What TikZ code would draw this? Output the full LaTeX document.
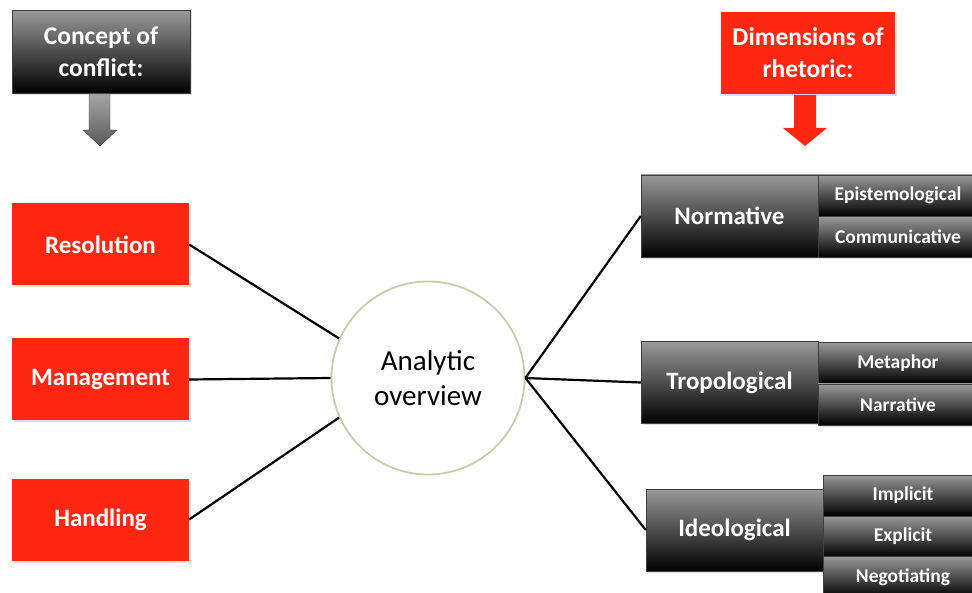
\documentclass[tikz,border=0pt]{standalone}
\usepackage{fontspec}
\setmainfont{Carlito}
\usetikzlibrary{shadows}

\definecolor{boxred}{RGB}{255,38,18}
\definecolor{hubrim}{RGB}{200,204,168}

\tikzset{
  softshadow/.style={drop shadow={opacity=0.25,shadow xshift=1.5pt,shadow yshift=-2pt}},
  bigtext/.style={font=\bfseries\fontsize{25}{32}\selectfont, text=white, align=center},
  smalltext/.style={font=\bfseries\fontsize{19.5}{22}\selectfont, text=white},
  redbox/.style={bigtext, fill=boxred, minimum width=177pt, minimum height=82pt, softshadow},
  darkbox/.style={bigtext, top color=black!40, bottom color=black, draw=black!75,
    minimum width=177pt, minimum height=82pt, softshadow},
  subbox/.style={smalltext, top color=black!40, bottom color=black, draw=black!75,
    minimum width=160pt, minimum height=41pt, softshadow},
  spoke/.style={line width=2.2pt}
}

\begin{document}
\begin{tikzpicture}[x=1pt,y=-1pt]
  \useasboundingbox (0,0) rectangle (972,593);
  \clip (0,0) rectangle (972,593);

  % headings with their block arrows
  \node[darkbox, minimum width=178pt, minimum height=83pt, font=\bfseries\fontsize{25.5}{32}\selectfont] (concept) at (101,52) {Concept of\\conflict:};
  \node[redbox, minimum width=174pt, font=\bfseries\fontsize{25.5}{32}\selectfont] (dims) at (808,53) {Dimensions of\\rhetoric:};
  \draw[black!75, top color=black!35, bottom color=black!65]
    (89,94) -- (110,94) -- (110,130) -- (117,130) -- (100,146) -- (83,130) -- (89,130) -- cycle;
  \fill[boxred] (794,95) -- (816,95) -- (816,128) -- (827,128) -- (805,146) -- (783,128) -- (794,128) -- cycle;

  % hub
  \node[circle, draw=hubrim, line width=1.8pt, fill=white, minimum size=193pt,
    align=center, font=\fontsize{29}{35}\selectfont] (hub) at (428,378) {Analytic\\overview};

  % left column
  \node[redbox] (res) at (100.5,244.5) {Resolution};
  \node[redbox] (man) at (100.5,379.5) {Management};
  \node[redbox] (han) at (100.5,519.5) {Handling};

  % right column
  \node[darkbox] (norm) at (729.5,216) {Normative};
  \node[darkbox] (trop) at (729.5,382.5) {Tropological};
  \node[darkbox] (ideo) at (734.5,530) {Ideological};

  \foreach \name/\txt/\x/\y in {epi/Epistemological/898/195.5, comm/Communicative/898/237,
      meta/Metaphor/898/363, narr/Narrative/898/404.5,
      impl/Implicit/903/495.5, expl/Explicit/903/536.5, nego/Negotiating/903/577}
    \node[subbox] (\name) at (\x,\y) {\txt};

  % spokes
  \draw[spoke] (res.east) -- (hub.156);
  \draw[spoke] (man.east) -- (hub.west);
  \draw[spoke] (han.east) -- (hub.204);
  \foreach \target in {norm,trop,ideo}
    \draw[spoke] (hub.east) -- (\target.west);
\end{tikzpicture}
\end{document}
